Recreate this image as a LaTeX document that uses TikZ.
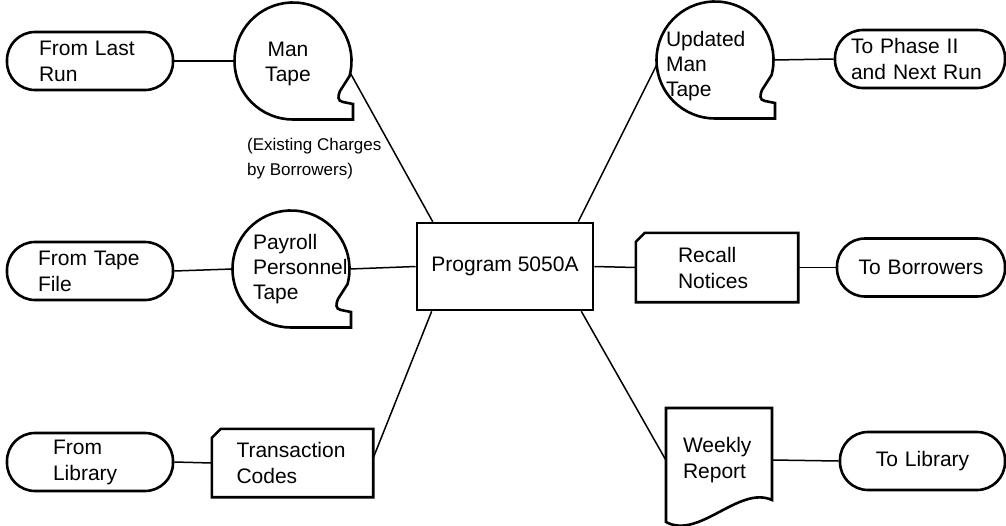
\documentclass[tikz,border=0pt]{standalone}
\usepackage{fontspec}
\setmainfont{Liberation Sans}
\usetikzlibrary{calc}
\tikzset{
  outl/.style={line width=2.6pt},
  conn/.style={line width=1.5pt},
  txt/.style={font=\fontsize{21}{26}\selectfont},
  term/.style={txt, draw, outl, rounded corners=28pt, minimum height=58pt, inner ysep=2pt},
  tapebox/.style={circle, minimum size=117pt, inner sep=0pt},
  tapetxt/.style={font=\fontsize{21}{25}\selectfont, inner sep=0pt},
  cardbox/.style={txt, inner ysep=2pt, align=left},
  procbox/.style={txt, draw, outl, minimum width=176pt, minimum height=87pt},
  note/.style={font=\fontsize{17}{25}\selectfont, inner sep=0pt, align=left},
}
\newcommand\tapeoutline[1]{%
  \draw[outl, shift={(#1.center)}] (-15:58.5) arc[start angle=-15, end angle=270, radius=58.5pt]
    -- (60,-58.5) -- (60,-43) -- (50,-41) .. controls (44,-40) and (45,-35) .. (47,-30) -- cycle;}
\newcommand\cardoutline[1]{%
  \draw[outl] ([yshift=-9pt]#1.north west) -- ([xshift=9pt]#1.north west) -- (#1.north east)
    -- (#1.south east) -- (#1.south west) -- cycle;}
\begin{document}
\begin{tikzpicture}[x=1pt, y=1pt]
\useasboundingbox (0,0) rectangle (1006,-525);

% terminals
\node[term, inner xsep=32pt, text width=102pt, align=left] (t1) at (90,-61) {From Last\\Run};
\node[term, inner xsep=31pt, text width=104pt, align=left] (t2) at (90,-271) {From Tape\\File};
\node[term, inner xsep=46pt, text width=74pt, align=left] (t3) at (90,-462) {From\\Library};
\node[term, inner xsep=16pt, text width=138pt, align=left] (t4) at (920,-59) {To Phase II\\and Next Run};
\node[term, inner xsep=10pt, text width=148pt, align=center] (t5) at (921,-267.5) {To Borrowers};
\node[term, inner xsep=10pt, text width=145pt, align=center] (t6) at (922.5,-461) {To Library};

% tapes
\node[tapebox] (mt) at (293,-61) {};
\node[tapebox] (pp) at (291,-269) {};
\node[tapebox] (um) at (715,-60) {};
\tapeoutline{mt}
\tapeoutline{pp}
\tapeoutline{um}
\node[tapetxt, align=center] (mtt) at (288,-64) {Man\\Tape};
\node[tapetxt, align=left, text width=100pt] (ppt) at (303,-269.5) {Payroll\\Personnel\\Tape};
\node[tapetxt, align=left, text width=100pt] (umt) at (716,-66.5) {Updated\\Man\\Tape};

% cards
\node[cardbox, minimum width=161pt, minimum height=68pt, inner xsep=24.5pt, text width=112pt] (tc) at (292.5,-463) {Transaction\\Codes};
\cardoutline{tc}
\node[cardbox, minimum width=162pt, minimum height=69pt, inner xsep=42pt, text width=78pt] (rn) at (717,-267.5) {Recall\\Notices};
\cardoutline{rn}

% program
\node[procbox] (prog) at (505,-266.5) {Program 5050A};

% document
\node[txt, minimum width=106pt, minimum height=104pt, inner xsep=17pt, inner ysep=0pt, text width=72pt, align=left] (wr) at (719,-460) {Weekly\\Report};
\draw[outl, shift={(wr.center)}] (-53,52) -- (53,52) -- (53,-40) .. controls (20,-25) and (-20,-80) .. (-53,-62) -- cycle;

% annotation
\node[note, anchor=north west] (ann) at (247,-137.5) {(Existing Charges\\by Borrowers)};

% connectors
\draw[conn] (t1.east) -- (mt.west);
\draw[conn] (mt.-12) -- ([xshift=17pt]prog.north west);
\draw[conn] (t2.east) -- (pp.west);
\draw[conn] (pp.east) -- (prog.west);
\draw[conn] (t3.east) -- (tc.west);
\draw[conn] ([yshift=5pt]tc.east) -- ([xshift=16pt]prog.south west);
\draw[conn] ([xshift=-16pt]prog.north east) -- (um.185);
\draw[conn] (um.east) -- (t4.west);
\draw[conn] (prog.east) -- (rn.west);
\draw[conn] (rn.east) -- (t5.west);
\draw[conn] ([xshift=-13pt]prog.south east) -- (wr.west);
\draw[conn] (wr.east) -- (t6.west);
\end{tikzpicture}
\end{document}
